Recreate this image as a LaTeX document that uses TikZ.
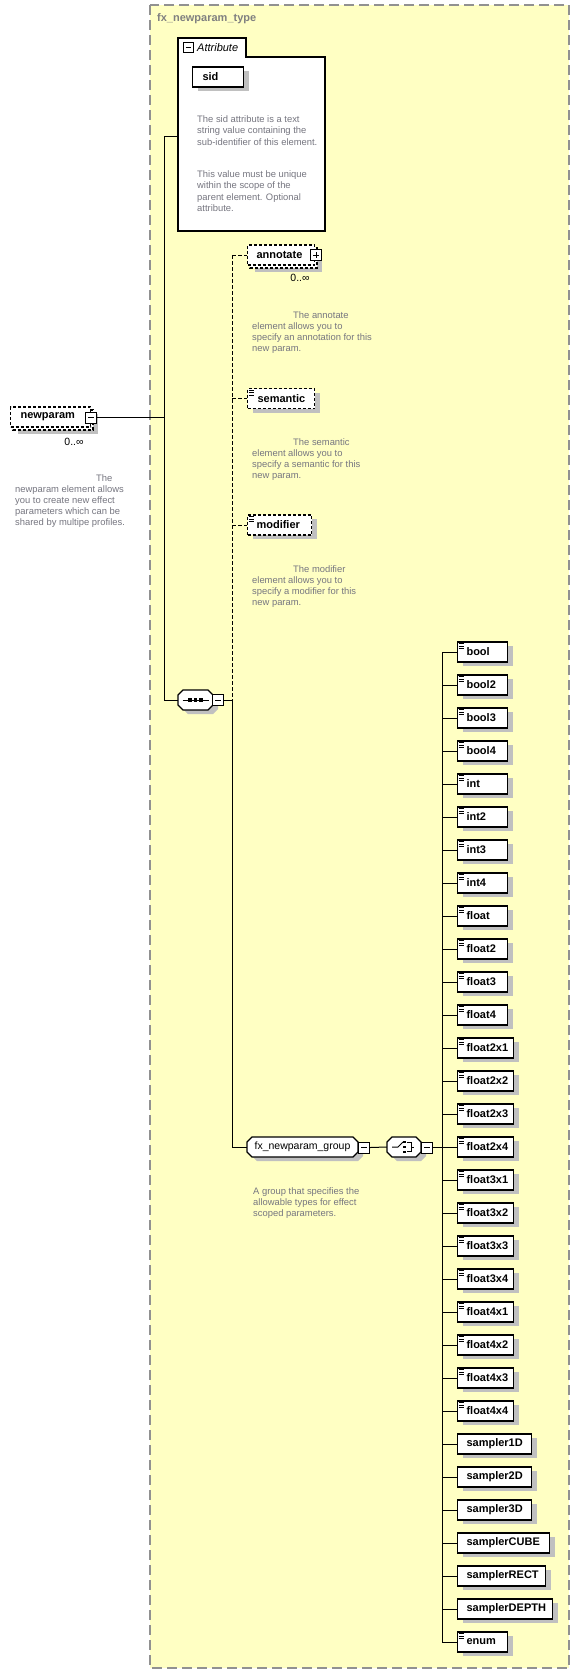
\documentclass[tikz,border=0pt]{standalone}
\usepackage{fontspec}
\setmainfont{Liberation Sans}
\usetikzlibrary{shadows,calc}
\definecolor{yel}{RGB}{255,255,195}
\definecolor{shd}{RGB}{192,192,192}
\definecolor{dtxt}{RGB}{118,118,128}
\definecolor{bord}{RGB}{145,145,145}
\definecolor{ttl}{RGB}{128,128,128}
\newcommand\mydocicon[1]{%
  \draw[line width=0.8pt] ([xshift=1.5pt,yshift=-2pt]#1.north west) -- ++(5,0)
    ([xshift=1.5pt,yshift=-4.5pt]#1.north west) -- ++(5,0)
    ([xshift=1.5pt,yshift=-7pt]#1.north west) -- ++(5,0);}
\newcommand\myocta[6]{%
  \draw[fill=white,line width=1.1pt,general shadow={fill=shd,shadow xshift=5pt,shadow yshift=-4pt}]
    ({#2+5},#3) -- ({#4-5},#3) -- (#4,{#3+5}) -- (#4,{#5-5}) -- ({#4-5},#5) -- ({#2+5},#5) -- (#2,{#5-5}) -- (#2,{#3+5}) -- cycle;
  \node[inner sep=0pt,minimum width={#4-#2},minimum height={#5-#3},font=\fontsize{10.5}{12}\selectfont] (#1) at ({(#2+#4)/2},{(#3+#5)/2}) {#6};}
\begin{document}
\begin{tikzpicture}[x=1pt,y=-1pt,
  conn/.style={line width=1pt},
  dconn/.style={line width=1pt,dash pattern=on 4pt off 2pt},
  lbl/.style={draw,fill=white,line width=1.1pt,text width=#1pt,inner xsep=0pt,inner ysep=0pt,align=left,minimum height=20pt,anchor=west,font=\fontsize{11}{13}\selectfont\bfseries},
  shadowed/.style={general shadow={fill=shd,shadow xshift=5pt,shadow yshift=-4pt}},
  elem/.style={lbl=#1,shadowed},
  opt/.style={dash pattern=on 3pt off 2pt},
  btn/.style={draw,fill=white,line width=1pt,minimum size=11pt,inner sep=0pt},
  btnminus/.style={btn,path picture={\draw[line width=1pt] ([xshift=2.5pt]path picture bounding box.west) -- ([xshift=-2.5pt]path picture bounding box.east);}},
  btnplus/.style={btn,path picture={\draw[line width=1pt] ([xshift=2.5pt]path picture bounding box.west) -- ([xshift=-2.5pt]path picture bounding box.east) ([yshift=-2.5pt]path picture bounding box.north) -- ([yshift=2.5pt]path picture bounding box.south);}},
  desc/.style={inner sep=0pt,align=left,anchor=north west,text=dtxt,font=\fontsize{9.4}{11}\selectfont},
  mult/.style={inner sep=0pt,font=\fontsize{10.5}{12}\selectfont}
]
\useasboundingbox (0,0) rectangle (580,1674);
\fill[white] (0,0) rectangle (580,1674);
% frame
\draw[fill=yel,draw=bord,line width=1.2pt,dash pattern=on 10pt off 5pt] (150,5) rectangle (569,1668);
\node[anchor=west,inner sep=0pt,font=\fontsize{11}{13}\selectfont\bfseries,text=ttl] (title) at (157,19) {fx\_newparam\_type};
% attribute box
\draw[fill=white,line width=1.1pt] (178,38) -- (246,38) -- (246,57) -- (325,57) -- (325,231) -- (178,231) -- cycle;
\node[inner sep=0pt,minimum width=147pt,minimum height=174pt,anchor=north west] (attr) at (178,57) {};
\node[btnminus,minimum size=10pt] (attrb) at (188,47.5) {};
\node[anchor=west,inner sep=0pt,font=\fontsize{11}{13}\selectfont\itshape] (attrl) at (197,47.5) {Attribute};
\node[elem=51] (sid) at (192,77) {\hspace*{10pt}sid};
\node[desc,font=\fontsize{9.4}{11.7}\selectfont] (sidd1) at (197,115) {The sid attribute is a text\\string value containing the\\sub-identifier of this element.};
\node[desc,font=\fontsize{9.4}{11.5}\selectfont] (sidd2) at (197,170) {This value must be unique\\within the scope of the\\parent element. Optional\\attribute.};
% newparam
\draw[opt,fill=white,line width=1.1pt,shadowed] (13,410) rectangle (93,430);
\node[lbl=80,opt] (np) at (10,417) {\hspace*{10pt}newparam};
\node[btnminus] (npb) at (91,417.5) {};
\node[mult] (npm) at (74,442) {0..∞};
\node[desc] (npd) at (15,474.5) {\hspace*{81pt}The\\newparam element allows\\you to create new effect\\parameters which can be\\shared by multipe profiles.};
% annotate
\draw[opt,fill=white,line width=1.1pt,shadowed] (250,248) rectangle (317,268);
\node[lbl=67,opt] (ann) at (247,255) {\hspace*{9pt}annotate};
\node[btnplus] (annb) at (316,255) {};
\node[mult] (annm) at (300,278) {0..∞};
\node[desc] (annd) at (252,311.5) {\hspace*{41pt}The annotate\\element allows you to\\specify an annotation for this\\new param.};
% semantic
\node[elem=67,opt] (sem) at (247,398.5) {\hspace*{10pt}semantic};
\mydocicon{sem}
\node[desc] (semd) at (252,438.5) {\hspace*{41pt}The semantic\\element allows you to\\specify a semantic for this\\new param.};
% modifier
\node[elem=64,opt] (mod) at (247,525) {\hspace*{9pt}modifier};
\mydocicon{mod}
\node[desc] (modd) at (252,565.5) {\hspace*{41pt}The modifier\\element allows you to\\specify a modifier for this\\new param.};
% sequence
\myocta{seq}{178}{690}{213}{710}{}
\draw[line width=1pt] ([xshift=-13pt]seq.center) -- ([xshift=13pt]seq.center);
\foreach \dx in {-5.5,0,5.5}{\fill ($(seq.center)+(\dx,0)+(-1.6,-1.6)$) rectangle ++(3.2,3.2);}
\node[btnminus] (seqb) at (218,700) {};
% group
\myocta{grp}{247}{1137}{358}{1157}{fx\_newparam\_group}
\node[btnminus] (grpb) at (364,1147.5) {};
\node[desc] (grpd) at (253,1187.5) {A group that specifies the\\allowable types for effect\\scoped parameters.};
% choice
\myocta{cho}{387}{1137}{421}{1157}{}
\draw[line width=1pt] ($(cho.center)+(-12,0)$) -- ++(6,0) -- ++(5,-5);
\foreach \dy in {-5,0,5}{\fill ($(cho.center)+(0.5,\dy)+(-1.1,-1.1)$) rectangle ++(2.2,2.2);}
\draw[line width=1pt] ($(cho.center)+(2.5,-4.5)$) -- ++(4.5,0) -- ++(0,9) -- ++(-4.5,0) ($(cho.center)+(7,0)$) -- ++(3,0);
\node[btnminus] (chob) at (427,1147.5) {};
% children
\coordinate (sp4) at (442,652);
\foreach \nm/\w/\ic [count=\k from 0] in {bool/50/1,bool2/50/1,bool3/50/1,bool4/50/1,int/50/1,int2/50/1,int3/50/1,int4/50/1,float/50/1,float2/50/1,float3/50/1,float4/50/1,float2x1/56/1,float2x2/56/1,float2x3/56/1,float2x4/56/1,float3x1/56/1,float3x2/56/1,float3x3/56/1,float3x4/56/1,float4x1/56/1,float4x2/56/1,float4x3/56/1,float4x4/56/1,sampler1D/74/0,sampler2D/74/0,sampler3D/74/0,samplerCUBE/92/0,samplerRECT/88/0,samplerDEPTH/95/0,enum/50/1}{
  \node[elem=\w] (\nm) at (457,{652+33*\k}) {\hspace*{9pt}\nm};
  \ifnum\ic=1 \mydocicon{\nm}\fi
  \draw[conn] (\nm.west -| sp4) -- (\nm.west);
}
% connectors
\coordinate (sp1) at (164,136);
\coordinate (sp3) at (232,255);
\draw[conn] (npb.east) -- (npb.east -| sp1);
\draw[conn] (attr.west |- sp1) -- (sp1) -- (sp1 |- seq.west) -- (seq.west);
\draw[conn] (seqb.east) -- (seqb.east -| sp3);
\draw[dconn] (sp3) -- (ann.west);
\draw[dconn] (sp3 |- sem.west) -- (sem.west);
\draw[dconn] (sp3 |- mod.west) -- (mod.west);
\draw[dconn] (sp3) -- (sp3 |- seqb.east);
\draw[conn] (sp3 |- seqb.east) -- (sp3 |- grp.west) -- (grp.west);
\draw[conn] (grpb.east) -- (cho.west);
\draw[conn] (chob.east) -- (chob.east -| sp4);
\draw[conn] (sp4) -- (sp4 |- enum.west);
\end{tikzpicture}
\end{document}
